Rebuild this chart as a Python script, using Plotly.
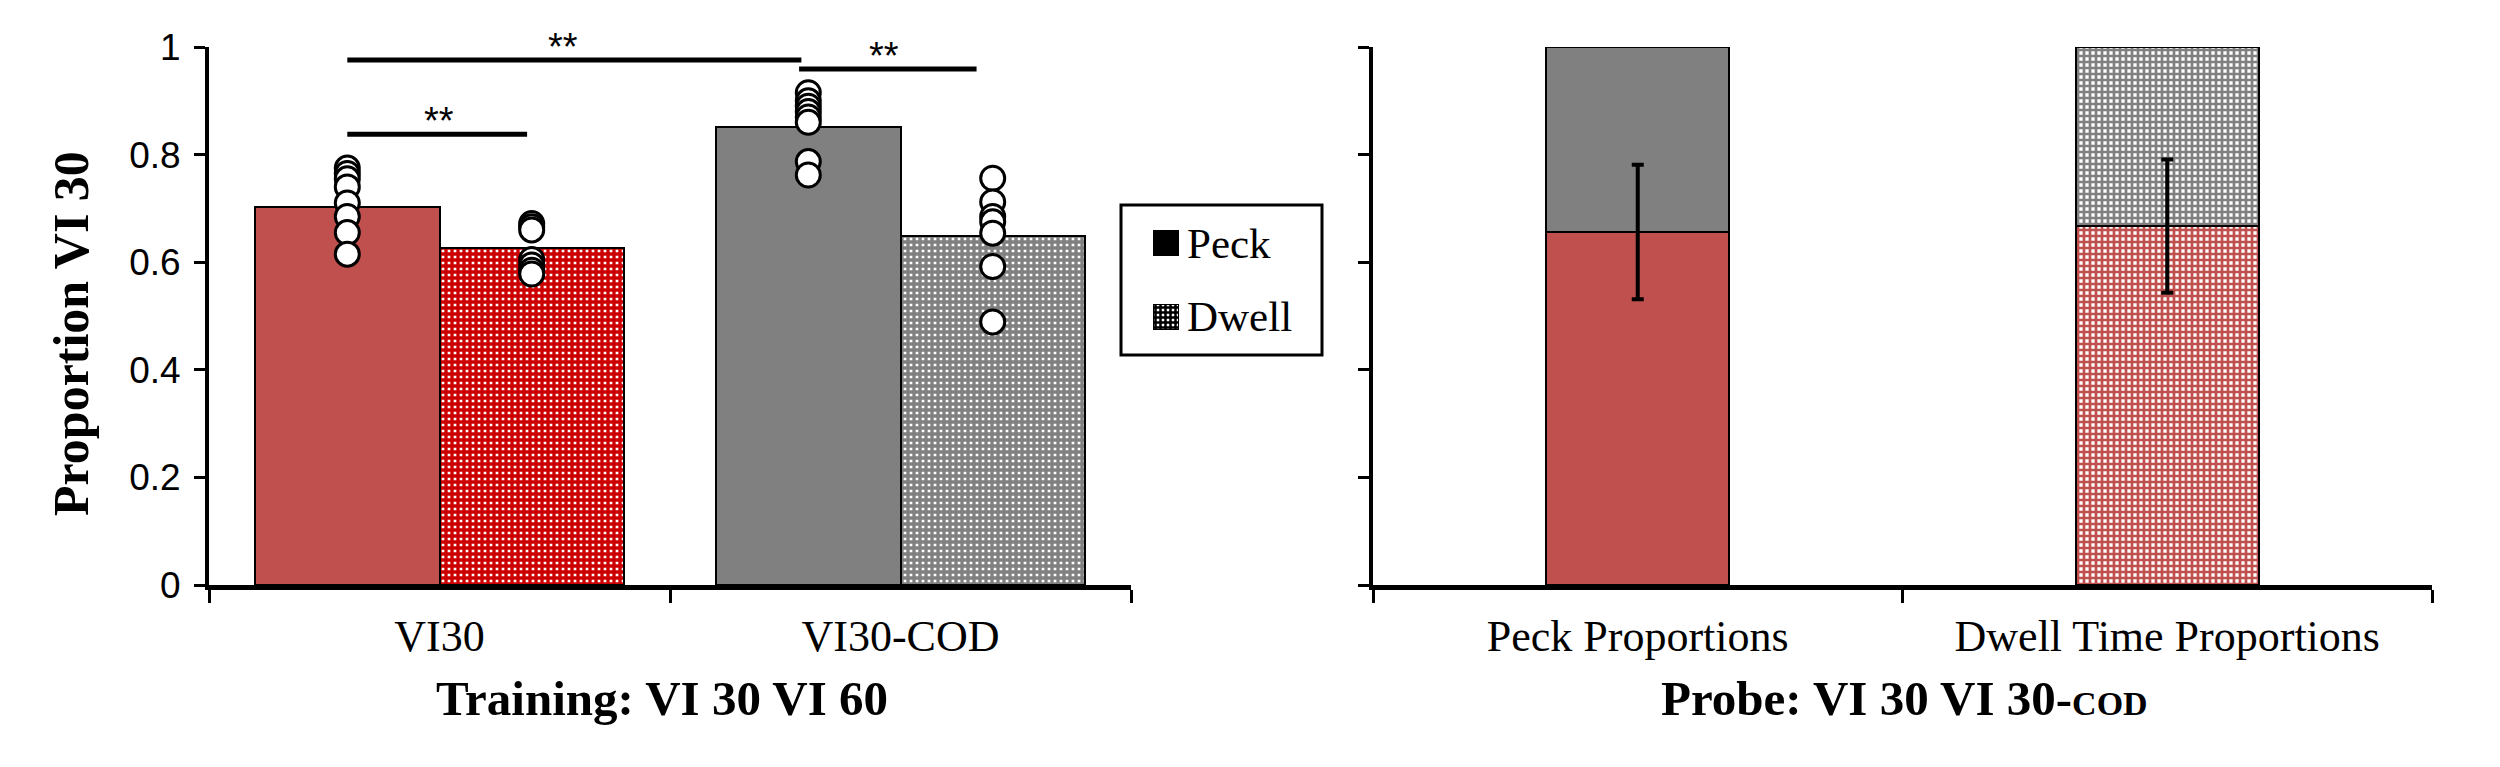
import plotly.graph_objects as go

# ---------------- data ----------------
training_categories = ["VI30", "VI30-COD"]
training_peck_means = [0.702, 0.852]
training_dwell_means = [0.626, 0.649]

vi30_peck_points = [0.775, 0.765, 0.755, 0.740, 0.710, 0.685, 0.655, 0.615]
vi30_dwell_points = [0.672, 0.666, 0.660, 0.605, 0.595, 0.585, 0.578]
cod_peck_points = [0.915, 0.900, 0.890, 0.880, 0.870, 0.860, 0.787, 0.762]
cod_dwell_points = [0.756, 0.712, 0.685, 0.675, 0.654, 0.592, 0.489]

probe_categories = ["Peck Proportions", "Dwell Time Proportions"]
probe_vi30 = [0.656, 0.667]      # bottom (red) segment
probe_other = [0.344, 0.333]     # top (grey) segment
probe_err = [0.125, 0.124]

y_tick_values = [0, 0.2, 0.4, 0.6, 0.8, 1]

legend_labels = ["Peck", "Dwell"]

# significance brackets (start x, end x, height, label position)
sig_x0 = [-0.2, -0.2, 0.78]
sig_x1 = [0.785, 0.19, 1.165]
sig_y = [0.976, 0.838, 0.959]
sig_label_x = [0.267, -0.002, 0.965]
sig_labels = ["**", "**", "**"]

# ---------------- styles ----------------
W, H = 2500, 767
RED = "#c0504d"
RED_DARK = "#cc0000"
GREY = "#808080"
SERIF = "Liberation Serif"
SANS = "Liberation Sans"

BAR_OFFSET = 0.2
BAR_WIDTH = 0.4
PROBE_WIDTH = 0.345


def fx(p):
    return p / W


def fy(p):
    return 1 - p / H


def cross_pattern(shapes, colors, solidity=0.68, size=6):
    return dict(shape=shapes, fgcolor=colors, bgcolor="white", size=size,
                solidity=solidity, fillmode="replace")


fig = go.Figure()

idx = list(range(len(training_categories)))
peck_x = [i - BAR_OFFSET for i in idx]
dwell_x = [i + BAR_OFFSET for i in idx]

fig.add_trace(go.Bar(
    x=peck_x, y=training_peck_means, width=BAR_WIDTH,
    marker=dict(color=[RED, GREY], line=dict(color="black", width=2)),
    showlegend=False, xaxis="x", yaxis="y"))
fig.add_trace(go.Bar(
    x=dwell_x, y=training_dwell_means, width=BAR_WIDTH,
    marker=dict(color=[RED_DARK, GREY], line=dict(color="black", width=2),
                pattern=cross_pattern("+", [RED_DARK, GREY], solidity=0.8)),
    showlegend=False, xaxis="x", yaxis="y"))

point_sets = [
    (peck_x[0], vi30_peck_points),
    (dwell_x[0], vi30_dwell_points),
    (peck_x[1], cod_peck_points),
    (dwell_x[1], cod_dwell_points),
]
for xpos, pts in point_sets:
    fig.add_trace(go.Scatter(
        x=[xpos] * len(pts), y=pts, mode="markers",
        marker=dict(size=24, color="white", line=dict(color="black", width=3)),
        showlegend=False, cliponaxis=False, xaxis="x", yaxis="y"))

# probe panel (stacked)
pidx = list(range(len(probe_categories)))
fig.add_trace(go.Bar(
    x=pidx, y=probe_vi30, width=PROBE_WIDTH,
    marker=dict(color=[RED, RED], line=dict(color="black", width=2),
                pattern=cross_pattern(["", "+"], [RED, RED], solidity=0.7)),
    showlegend=False, xaxis="x2", yaxis="y2"))
fig.add_trace(go.Bar(
    x=pidx, y=probe_other, width=PROBE_WIDTH,
    marker=dict(color=[GREY, GREY], line=dict(color="black", width=2),
                pattern=cross_pattern(["", "+"], [GREY, GREY], solidity=0.7)),
    showlegend=False, xaxis="x2", yaxis="y2"))
fig.add_trace(go.Scatter(
    x=pidx, y=probe_vi30, mode="markers",
    marker=dict(size=1, opacity=0),
    error_y=dict(type="data", array=probe_err, visible=True,
                 color="black", thickness=4, width=6),
    showlegend=False, cliponaxis=False, xaxis="x2", yaxis="y2"))

# legend (swatches drawn on a small hidden subplot)
legend_y = [1, 0]
fig.add_trace(go.Bar(
    y=legend_y, x=[1, 1], orientation="h", width=0.338,
    marker=dict(color="black", line=dict(color="black", width=1),
                pattern=cross_pattern(["", "+"], ["black", "black"], solidity=0.75, size=5)),
    cliponaxis=False, showlegend=False, hoverinfo="skip",
    xaxis="x3", yaxis="y3"))

shapes = []
annotations = []
for ly, lab in zip(legend_y, legend_labels):
    annotations.append(dict(xref="x3", yref="y3", x=1.28, y=ly, text=lab,
                            showarrow=False, xanchor="left", yanchor="middle",
                            font=dict(family=SERIF, size=43, color="black")))

# significance brackets
for x0, x1, yv, lx, lab in zip(sig_x0, sig_x1, sig_y, sig_label_x, sig_labels):
    shapes.append(dict(type="line", xref="x", yref="y", x0=x0, x1=x1, y0=yv, y1=yv,
                       line=dict(color="black", width=5)))
    annotations.append(dict(xref="x", yref="y", x=lx, y=yv + 0.024,
                            text=lab, showarrow=False, yanchor="middle",
                            font=dict(family=SANS, size=38, color="black")))

# legend box
shapes.append(dict(type="rect", xref="paper", yref="paper",
                   x0=fx(1121), x1=fx(1322), y0=fy(355), y1=fy(205),
                   line=dict(color="black", width=3), layer="below"))

annotations += [
    dict(xref="paper", yref="paper", x=fx(71), y=fy(334), text="<b>Proportion VI 30</b>",
         textangle=-90, showarrow=False, xanchor="center", yanchor="middle",
         font=dict(family=SERIF, size=50, color="black")),
    dict(xref="paper", yref="paper", x=fx(662), y=fy(698), text="<b>Training: VI 30 VI 60</b>",
         showarrow=False, xanchor="center", yanchor="middle",
         font=dict(family=SERIF, size=49, color="black")),
    dict(xref="paper", yref="paper", x=fx(1904), y=fy(698),
         text="<b>Probe: VI 30 VI 30-<span style='font-size:34px'>COD</span></b>",
         showarrow=False, xanchor="center", yanchor="middle",
         font=dict(family=SERIF, size=49, color="black")),
]

y_domain = [fy(585), fy(47)]

common_x = dict(range=[-0.5, 1.5], tickmode="array", ticks="", showline=True,
                linecolor="black", linewidth=5, showgrid=False, zeroline=False,
                automargin=False,
                tickfont=dict(family=SERIF, size=44, color="black"),
                ticklabelstandoff=8,
                minor=dict(tickmode="array", tickvals=[-0.5, 0.5, 1.5], ticks="outside",
                           ticklen=13, tickwidth=3, tickcolor="black", showgrid=False))
common_y = dict(range=[0, 1], domain=y_domain, tickmode="array", tickvals=y_tick_values,
                ticks="outside", ticklen=11, tickwidth=3, tickcolor="black",
                showline=True, linecolor="black", linewidth=4, showgrid=False,
                zeroline=False, automargin=False)

hidden = dict(visible=False, showgrid=False, zeroline=False, fixedrange=True,
              automargin=False)

fig.update_layout(
    width=W, height=H,
    margin=dict(l=0, r=0, t=0, b=0, pad=0),
    paper_bgcolor="white", plot_bgcolor="white",
    barmode="stack",
    showlegend=False,
    xaxis=dict(domain=[fx(209), fx(1131)], anchor="y", tickvals=idx,
               ticktext=training_categories, **common_x),
    yaxis=dict(anchor="x", showticklabels=True,
               tickfont=dict(family=SANS, size=37, color="black"),
               ticklabelstandoff=6, **common_y),
    xaxis2=dict(domain=[fx(1373), fx(2432)], anchor="y2", tickvals=pidx,
                ticktext=probe_categories, **common_x),
    yaxis2=dict(anchor="x2", showticklabels=False, **common_y),
    xaxis3=dict(domain=[fx(1153), fx(1318)], range=[0, (1318 - 1153) / 25],
                anchor="y3", **hidden),
    yaxis3=dict(domain=[fy(355), fy(205)], range=[-0.514, 1.514],
                anchor="x3", **hidden),
    shapes=shapes,
    annotations=annotations,
)

fig.write_html("out.html")
